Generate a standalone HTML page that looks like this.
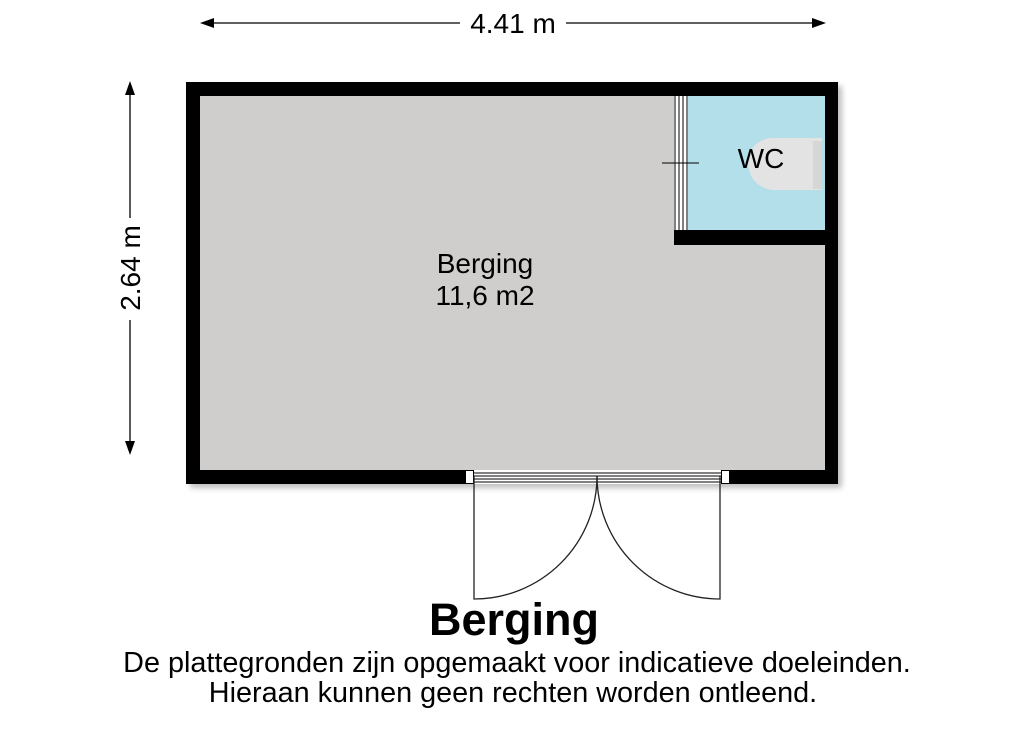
<!DOCTYPE html>
<html><head><meta charset="utf-8"><style>
body{margin:0;background:#fff;width:1024px;height:724px;overflow:hidden}
svg text{font-family:"Liberation Sans",sans-serif}
</style></head><body>
<svg width="1024" height="724" viewBox="0 0 1024 724">
<defs><filter id="s" x="-5%" y="-5%" width="110%" height="110%"><feGaussianBlur stdDeviation="3"/></filter></defs>
<rect x="190" y="86" width="652" height="402" fill="#000" opacity="0.25" filter="url(#s)"/>
<rect x="186" y="82" width="652" height="402" fill="#000"/>
<rect x="200" y="96" width="625" height="374" fill="#cfcecc"/>
<rect x="688" y="96" width="137" height="135" fill="#b3dfeb"/>
<rect x="674" y="230" width="151" height="15" fill="#000"/>
<rect x="674" y="96" width="14" height="134" fill="#fff"/>
<g stroke="#000" stroke-width="1">
<line x1="675" y1="96" x2="675" y2="230"/><line x1="679" y1="96" x2="679" y2="230"/>
<line x1="683" y1="96" x2="683" y2="230"/><line x1="687" y1="96" x2="687" y2="230"/>
<line x1="662" y1="163" x2="699" y2="163"/>
</g>
<path d="M822 138 H770 Q748 142 748 164 Q750 186 772 190 H822 Z" fill="#e3e3e3"/>
<rect x="813" y="141" width="9" height="48" fill="#d6d6d6"/>
<text x="761" y="168" font-size="28" text-anchor="middle">WC</text>
<text x="485" y="273" font-size="28" text-anchor="middle">Berging</text>
<text x="485" y="305" font-size="28" text-anchor="middle">11,6 m2</text>
<rect x="465" y="470" width="265" height="14" fill="#fff"/>
<g stroke="#000" stroke-width="1" fill="none">
<rect x="465.5" y="470.5" width="8" height="13"/><rect x="721.5" y="470.5" width="8" height="13"/>
<line x1="474" y1="473" x2="721" y2="473"/><line x1="474" y1="476" x2="721" y2="476"/>
<line x1="474" y1="479" x2="721" y2="479"/><line x1="474" y1="482" x2="721" y2="482"/>
</g>
<g stroke="#222" stroke-width="1.3" fill="none">
<path d="M474 476 V599 A123 123 0 0 0 597 476"/>
<path d="M720 476 V599 A123 123 0 0 1 597 476"/>
</g>
<g stroke="#000" stroke-width="1.3">
<line x1="210" y1="23" x2="460" y2="23"/><line x1="566" y1="23" x2="816" y2="23"/>
<line x1="130" y1="92" x2="130" y2="218"/><line x1="130" y1="320" x2="130" y2="445"/>
</g>
<polygon points="200,23 214,18 214,28"/><polygon points="826,23 812,18 812,28"/>
<polygon points="130,81 125,95 135,95"/><polygon points="130,455 125,441 135,441"/>
<text x="513" y="33" font-size="28" text-anchor="middle">4.41 m</text>
<text transform="translate(140,268) rotate(-90)" font-size="28" text-anchor="middle">2.64 m</text>
<text x="514" y="635" font-size="45" font-weight="bold" text-anchor="middle">Berging</text>
<text x="517" y="672" font-size="28.8" text-anchor="middle">De plattegronden zijn opgemaakt voor indicatieve doeleinden.</text>
<text x="513" y="702" font-size="28.8" text-anchor="middle">Hieraan kunnen geen rechten worden ontleend.</text>
</svg>
</body></html>
